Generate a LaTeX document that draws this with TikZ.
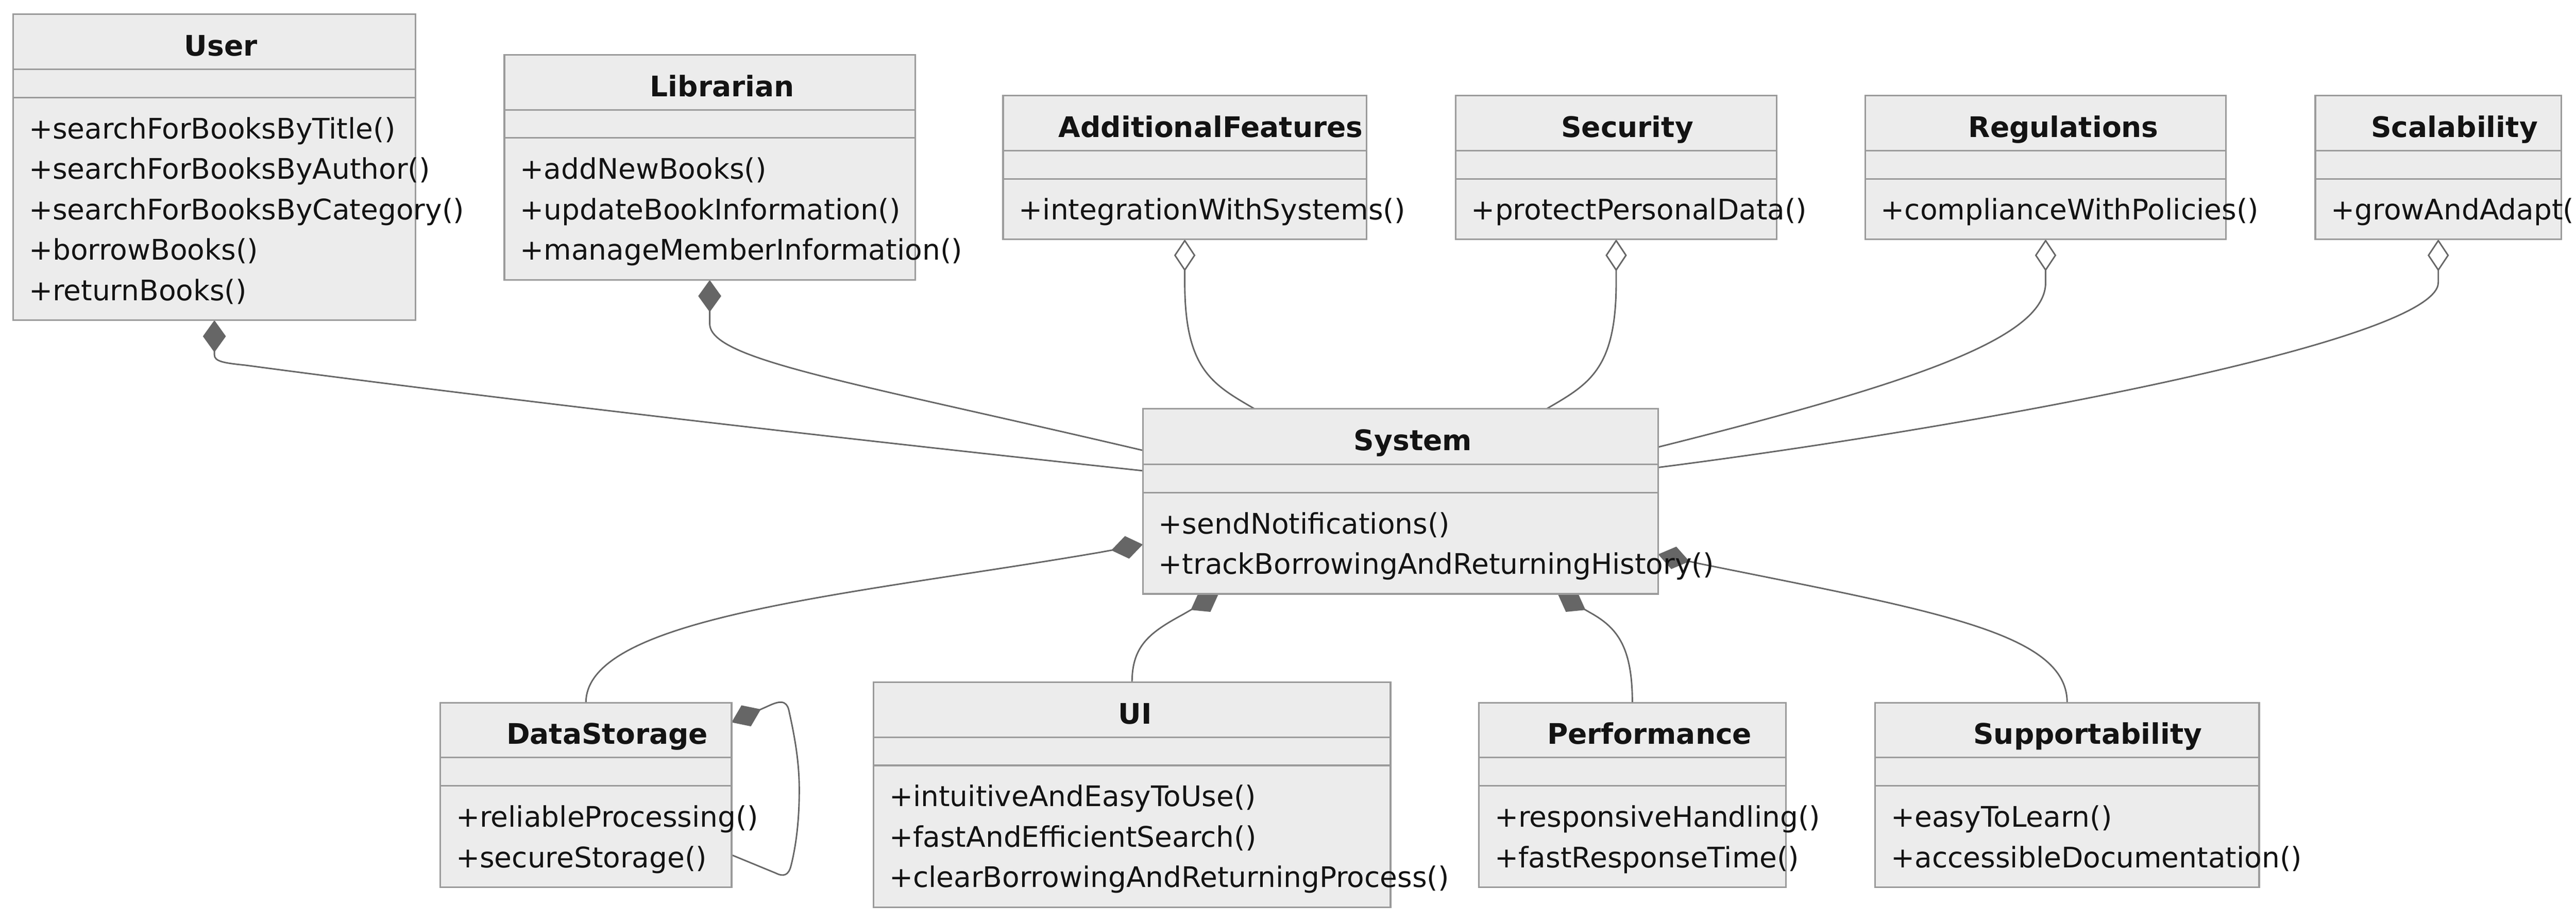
\documentclass[tikz,border=0pt]{standalone}
\usepackage{fontspec}
\setmainfont{DejaVu Sans}
\usetikzlibrary{arrows.meta,calc}
\definecolor{boxfill}{RGB}{236,236,236}
\definecolor{boxline}{RGB}{155,155,155}
\definecolor{linec}{RGB}{102,102,102}
\definecolor{textc}{RGB}{19,19,19}
\pgfdeclarelayer{bg}
\pgfdeclarelayer{edges}
\pgfsetlayers{bg,edges,main}
% name, xl, xr, top, div1, div2, bottom, title cx, title
\newcommand\umlbox[9]{%
  \pgfmathsetmacro\bw{#3-#2}\pgfmathsetmacro\bh{#7-#4}%
  \node[classbox, minimum width=\bw pt, minimum height=\bh pt, anchor=north west] (#1) at (#2,#4) {};
  \draw[divider] (#2,#5) -- (#3,#5);
  \draw[divider] (#2,#6) -- (#3,#6);
  \pgfmathsetmacro\tb{#5-8.2}%
  \node[titletext] (#1-title) at (#8,\tb) {#9};
}
\begin{document}
\begin{tikzpicture}[x=1pt,y=-1pt,
  classbox/.style={draw=boxline, fill=boxfill, line width=1pt, inner sep=0pt, outer sep=0pt, rectangle},
  divider/.style={draw=boxline, line width=1pt},
  titletext/.style={anchor=base, inner sep=0pt, text=textc, font=\fontsize{17.25}{20}\selectfont\bfseries},
  meth/.style={anchor=base west, inner sep=0pt, text=textc, font=\fontsize{17.25}{20}\selectfont},
  edge/.style={draw=linec, line width=0.9pt},
  comp/.style={edge, arrows={Diamond[length=19.5pt,width=14pt,fill=linec]-}},
  agg/.style={edge, arrows={Diamond[length=19.5pt,width=13pt,fill=white]-}},
]
\useasboundingbox (0,0) rectangle (1568,561.16);
\begin{pgfonlayer}{bg}
\fill[white] (0,0) rectangle (1568,561.16);
\end{pgfonlayer}

% ---------- classes ----------
\umlbox{user}{8}{253}{8.6}{42.3}{59.5}{195}{134.4}{User}
\node[meth] (user-m1) at (17.4,84.5) {+searchForBooksByTitle()};
\node[meth] (user-m2) at (17.4,109.1) {+searchForBooksByAuthor()};
\node[meth] (user-m3) at (17.4,133.7) {+searchForBooksByCategory()};
\node[meth] (user-m4) at (17.4,158.3) {+borrowBooks()};
\node[meth] (user-m5) at (17.4,182.9) {+returnBooks()};

\umlbox{librarian}{307}{557}{33.3}{67}{84}{170.5}{439.6}{Librarian}
\node[meth] (lib-m1) at (316.4,109) {+addNewBooks()};
\node[meth] (lib-m2) at (316.4,133.6) {+updateBookInformation()};
\node[meth] (lib-m3) at (316.4,158.2) {+manageMemberInformation()};

\umlbox{af}{610.6}{831.7}{58.3}{91.7}{108.9}{145.7}{737}{AdditionalFeatures}
\node[meth] (af-m1) at (620,133.9) {+integrationWithSystems()};

\umlbox{security}{886}{1081.5}{58.3}{91.7}{108.9}{145.7}{990.5}{Security}
\node[meth] (sec-m1) at (895.4,133.9) {+protectPersonalData()};

\umlbox{regulations}{1135.3}{1355}{58.3}{91.7}{108.9}{145.7}{1256}{Regulations}
\node[meth] (reg-m1) at (1144.7,133.9) {+complianceWithPolicies()};

\umlbox{scalability}{1409.3}{1559}{58.3}{91.7}{108.9}{145.7}{1494}{Scalability}
\node[meth] (sca-m1) at (1418.7,133.9) {+growAndAdapt()};

\umlbox{system}{695.6}{1009.3}{248.9}{282.6}{300}{361.6}{860}{System}
\node[meth] (sys-m1) at (705,325) {+sendNotifications()};
\node[meth] (sys-m2) at (705,349.6) {+trackBorrowingAndReturningHistory()};

\umlbox{datastorage}{268}{445.3}{427.8}{461.2}{478.5}{540.2}{369.6}{DataStorage}
\node[meth] (ds-m1) at (277.4,503.5) {+reliableProcessing()};
\node[meth] (ds-m2) at (277.4,528.1) {+secureStorage()};

\umlbox{ui}{531.7}{846.4}{415.4}{448.9}{466}{552.4}{691}{UI}
\node[meth] (ui-m1) at (541.1,491) {+intuitiveAndEasyToUse()};
\node[meth] (ui-m2) at (541.1,515.6) {+fastAndEfficientSearch()};
\node[meth] (ui-m3) at (541.1,540.2) {+clearBorrowingAndReturningProcess()};

\umlbox{performance}{900.2}{1087}{427.8}{461.2}{478.5}{540.2}{1004}{Performance}
\node[meth] (perf-m1) at (909.6,503.5) {+responsiveHandling()};
\node[meth] (perf-m2) at (909.6,528.1) {+fastResponseTime()};

\umlbox{supportability}{1141.4}{1375.1}{427.8}{461.2}{478.5}{540.2}{1270.8}{Supportability}
\node[meth] (sup-m1) at (1150.8,503.5) {+easyToLearn()};
\node[meth] (sup-m2) at (1150.8,528.1) {+accessibleDocumentation()};

% ---------- connectors ----------
\begin{pgfonlayer}{edges}
\draw[comp] (user.south) -- (130.5,216) .. controls (130.5,220) and (136,221) .. (149,222.3)
  .. controls (330,246.5) and (550,271) .. ($(system.north west)+(0,37.7)$);
\draw[comp] (librarian.south) -- (432,197) .. controls (432,219) and (515.8,232) .. ($(system.north west)+(0,25.3)$);
\draw[agg] (af.south) -- (721.15,172) .. controls (721.15,225) and (738,234) .. ($(system.north west)+(68,0)$);
\draw[agg] (security.south) -- (983.75,172) .. controls (983.75,225) and (967,234) .. ($(system.north west)+(245.8,0)$);
\draw[agg] (regulations.south) -- (1245.15,172) .. controls (1245.15,205) and (1170,232) .. ($(system.north east)+(0,23.3)$);
\draw[agg] (scalability.south) -- (1484.15,172) .. controls (1484.15,207) and (1209.3,259) .. ($(system.north east)+(0,35.7)$);

\draw[comp] ($(system.north west)+(0,82.6)$) -- (670,336.2) .. controls (520,362) and (356.65,375) .. (datastorage.north);
\draw[comp] ($(system.south west)+(46.1,0)$) -- (720.05,374.1) .. controls (700,385) and (689.05,393) .. (ui.north);
\draw[comp] ($(system.south west)+(252.6,0)$) -- (969.85,374.1) .. controls (985,383) and (993.6,395) .. (performance.north);
\draw[comp] ($(system.north east)+(0,88.6)$) -- (1033.7,343) .. controls (1177,372) and (1258.25,385) .. (supportability.north);

\draw[comp] ($(datastorage.north east)+(0,12)$) -- (468.6,429.4)
  .. controls (477,425.5) and (479.5,428) .. (480.5,434)
  .. controls (484.5,452) and (486.5,466) .. (486.5,481)
  .. controls (486.5,500) and (484.5,515) .. (481.5,527)
  .. controls (480,533) and (477,534) .. (472,531.5)
  -- ($(datastorage.south east)+(0,-19.7)$);
\end{pgfonlayer}
\end{tikzpicture}
\end{document}
